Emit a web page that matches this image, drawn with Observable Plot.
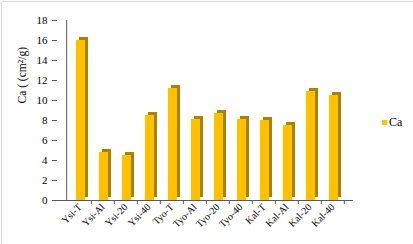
<!DOCTYPE html>
<html>
<head>
<meta charset="utf-8">
<script src="https://cdn.jsdelivr.net/npm/d3@7"></script>
<script src="https://cdn.jsdelivr.net/npm/@observablehq/plot@0.6"></script>
<style>
  html, body { margin: 0; padding: 0; background: #fff; }
  #wrap { position: relative; width: 413px; height: 244px; overflow: hidden; }
  #frame { position: absolute; left: 1px; top: 1px; width: 420px; height: 260px; border-left: 1px solid #d9d9d9; border-top: 1px solid #d9d9d9; }
  #legend { position: absolute; left: 382px; top: 115px; font: 12px "Liberation Serif", "Times New Roman", serif; color: #000; display: flex; align-items: center; }
  #legend span.sw { display: inline-block; width: 5px; height: 5px; background: #FFC000; margin-right: 2px; }
  svg { position: absolute; left: 0; top: 0; }
  svg text { font-family: "Liberation Serif", "Times New Roman", serif !important; }
</style>
</head>
<body>
<div id="wrap">
  <div id="frame"></div>
  <div id="chart"></div>
  <div id="legend"><span class="sw"></span>Ca</div>
</div>
<script>
const categories = ["Ysi-T","Ysi-Al","Ysi-20","Ysi-40","Tyo-T","Tyo-Al","Tyo-20","Tyo-40","Kal-T","Kal-Al","Kal-20","Kal-40"];
const caValues = [16.0, 4.8, 4.5, 8.5, 11.2, 8.1, 8.7, 8.1, 8.0, 7.5, 10.9, 10.5];
const yTicks = [0, 2, 4, 6, 8, 10, 12, 14, 16, 18];
const yLabel = "Ca ( (cm²/g)";

const data = categories.map((c, i) => ({cat: c, v: caValues[i]}));
const band = (413 - 57 - 60) / categories.length;

const chart = Plot.plot({
  width: 413,
  height: 244,
  marginLeft: 57,
  marginRight: 60,
  marginTop: 20,
  marginBottom: 44,
  style: {fontFamily: "'Liberation Serif', serif", background: "transparent", color: "#000"},
  x: {domain: categories, padding: 0.595, align: 0.5},
  y: {domain: [0, 18]},
  marks: [
    Plot.barY(data, {x: "cat", y: "v", fill: "#A98200", dx: 5, dy: -3}),
    Plot.barY(data, {x: "cat", y: "v", fill: "#FFC000", dx: 2}),
    Plot.ruleX(categories, {x: d => d, y1: 0, y2: -0.4, dx: band / 2, stroke: "#595959"}),
    Plot.ruleY([0], {stroke: "#595959"}),
    Plot.ruleX([categories[0]], {x: d => d, y1: 0, y2: 18, dx: -band / 2, stroke: "#595959"}),
    Plot.axisY({ticks: yTicks, tickSize: 5, tickPadding: 5, fontSize: 11, label: null, stroke: "#595959"}),
    Plot.axisX({tickSize: 0, tickRotate: -45, tickPadding: 5, fontSize: 10, label: null, dx: 1}),
    Plot.text([yLabel], {frameAnchor: "left", rotate: -90, dx: -35, dy: -7, fontSize: 11.5, fill: "#000"})
  ]
});
document.getElementById("chart").appendChild(chart);
</script>
</body>
</html>
